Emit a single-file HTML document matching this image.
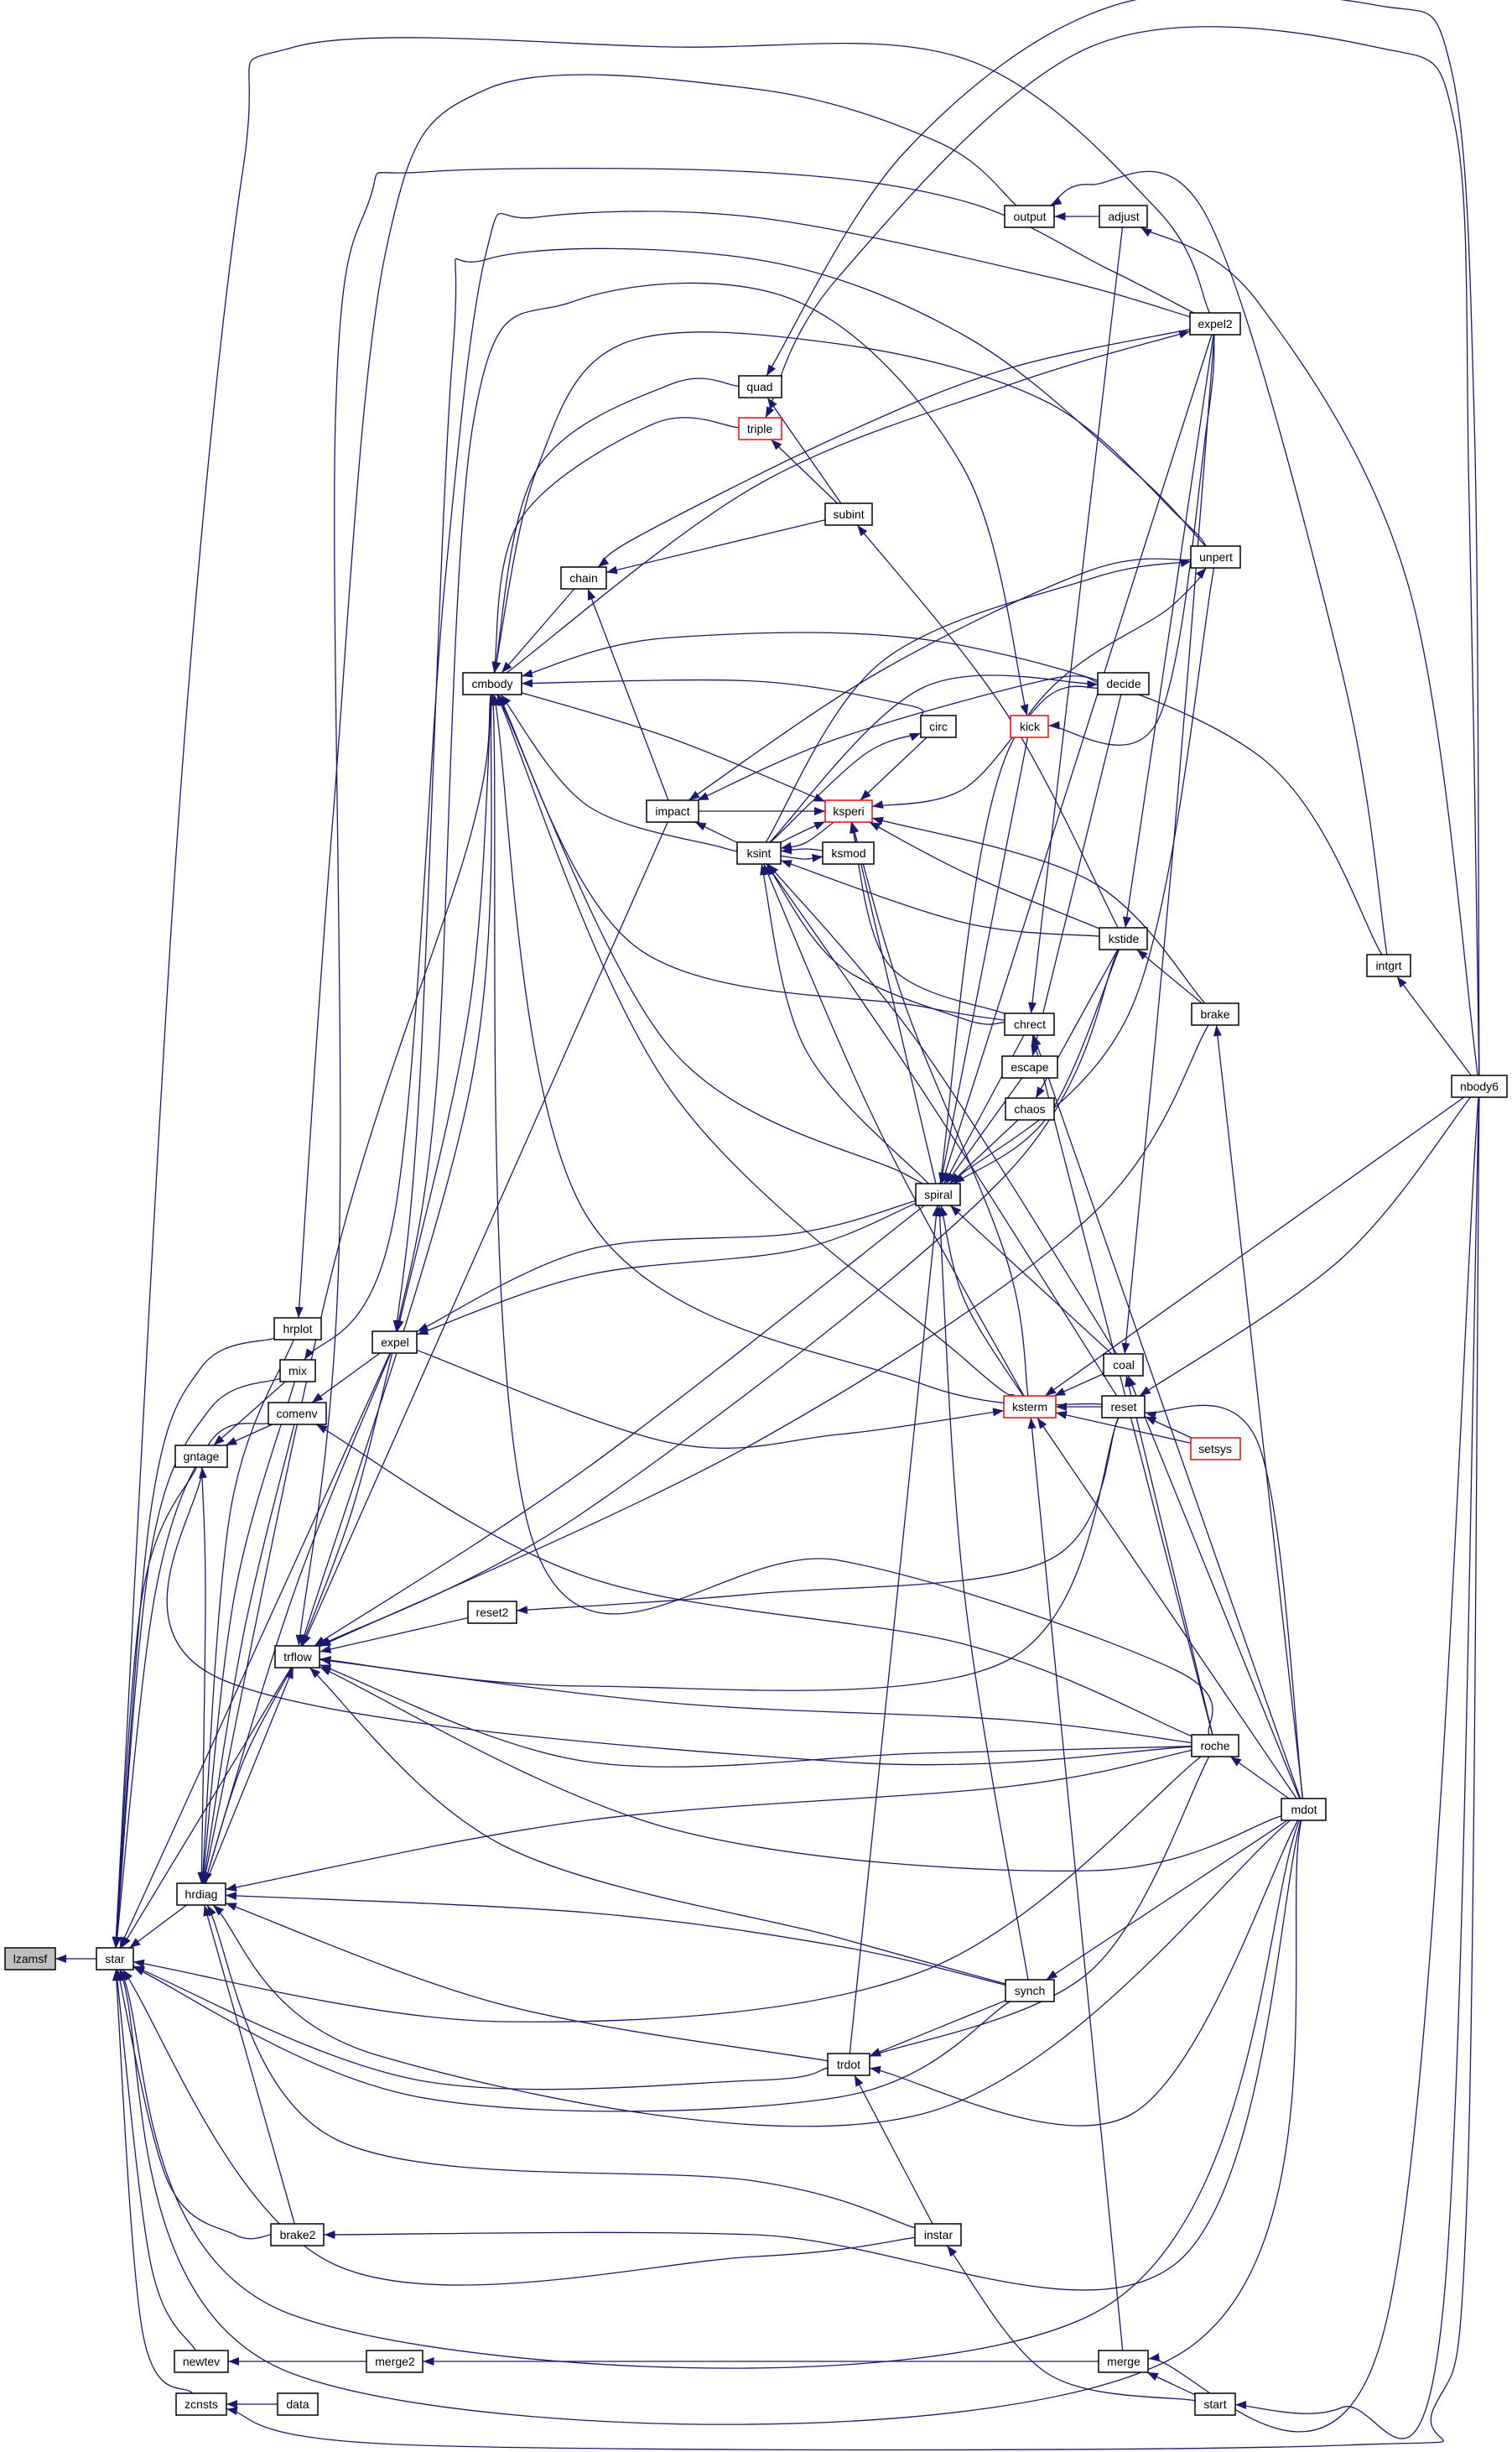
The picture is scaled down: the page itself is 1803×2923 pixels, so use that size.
<!DOCTYPE html>
<html><head><meta charset="utf-8"><style>
html,body{margin:0;padding:0;background:#fff}
svg{display:block}
text{font-family:"Liberation Sans",sans-serif;font-size:14px;text-anchor:middle;dominant-baseline:central;fill:#000}
</style></head><body>
<svg id="g" xmlns="http://www.w3.org/2000/svg" width="1803" height="2923" viewBox="0 0 1803 2923">
<defs><marker id="ah" markerUnits="userSpaceOnUse" markerWidth="13" markerHeight="10" refX="13" refY="5" orient="auto"><path d="M0,0 L13,5 L0,10 z" fill="#191970"/></marker></defs>
<g id="edges" fill="none" stroke="#191970" stroke-width="1.3"></g>
<g id="nodes">
<rect x="6" y="2322" width="60" height="26" fill="#bfbfbf" stroke="#000" stroke-width="1.5"/><text x="36" y="2335">lzamsf</text>
<rect x="115" y="2322" width="44" height="26" fill="#fff" stroke="#000" stroke-width="1.5"/><text x="137" y="2335">star</text>
<rect x="211" y="2245" width="58" height="26" fill="#fff" stroke="#000" stroke-width="1.5"/><text x="240" y="2258">hrdiag</text>
<rect x="328" y="1962" width="53" height="26" fill="#fff" stroke="#000" stroke-width="1.5"/><text x="355" y="1975">trflow</text>
<rect x="209" y="1723" width="62" height="26" fill="#fff" stroke="#000" stroke-width="1.5"/><text x="240" y="1736">gntage</text>
<rect x="320" y="1672" width="69" height="26" fill="#fff" stroke="#000" stroke-width="1.5"/><text x="354" y="1685">comenv</text>
<rect x="334" y="1621" width="42" height="26" fill="#fff" stroke="#000" stroke-width="1.5"/><text x="355" y="1634">mix</text>
<rect x="327" y="1571" width="56" height="26" fill="#fff" stroke="#000" stroke-width="1.5"/><text x="355" y="1584">hrplot</text>
<rect x="444" y="1587" width="53" height="26" fill="#fff" stroke="#000" stroke-width="1.5"/><text x="471" y="1600">expel</text>
<rect x="558" y="1909" width="58" height="26" fill="#fff" stroke="#000" stroke-width="1.5"/><text x="587" y="1922">reset2</text>
<rect x="323" y="2651" width="63" height="26" fill="#fff" stroke="#000" stroke-width="1.5"/><text x="355" y="2664">brake2</text>
<rect x="208" y="2802" width="64" height="26" fill="#fff" stroke="#000" stroke-width="1.5"/><text x="240" y="2815">newtev</text>
<rect x="437" y="2802" width="67" height="26" fill="#fff" stroke="#000" stroke-width="1.5"/><text x="471" y="2815">merge2</text>
<rect x="210" y="2853" width="60" height="26" fill="#fff" stroke="#000" stroke-width="1.5"/><text x="240" y="2866">zcnsts</text>
<rect x="331" y="2853" width="48" height="26" fill="#fff" stroke="#000" stroke-width="1.5"/><text x="355" y="2866">data</text>
<rect x="552" y="802" width="70" height="26" fill="#fff" stroke="#000" stroke-width="1.5"/><text x="587" y="815">cmbody</text>
<rect x="669" y="676" width="54" height="26" fill="#fff" stroke="#000" stroke-width="1.5"/><text x="696" y="689">chain</text>
<rect x="881" y="448" width="51" height="26" fill="#fff" stroke="#000" stroke-width="1.5"/><text x="906" y="461">quad</text>
<rect x="881" y="498" width="51" height="26" fill="#fff" stroke="#f00" stroke-width="1.5"/><text x="906" y="511">triple</text>
<rect x="984" y="600" width="56" height="26" fill="#fff" stroke="#000" stroke-width="1.5"/><text x="1012" y="613">subint</text>
<rect x="1198" y="245" width="59" height="26" fill="#fff" stroke="#000" stroke-width="1.5"/><text x="1228" y="258">output</text>
<rect x="1311" y="245" width="57" height="26" fill="#fff" stroke="#000" stroke-width="1.5"/><text x="1340" y="258">adjust</text>
<rect x="1419" y="373" width="60" height="26" fill="#fff" stroke="#000" stroke-width="1.5"/><text x="1449" y="386">expel2</text>
<rect x="1420" y="651" width="59" height="26" fill="#fff" stroke="#000" stroke-width="1.5"/><text x="1450" y="664">unpert</text>
<rect x="1309" y="802" width="61" height="26" fill="#fff" stroke="#000" stroke-width="1.5"/><text x="1340" y="815">decide</text>
<rect x="1098" y="853" width="42" height="26" fill="#fff" stroke="#000" stroke-width="1.5"/><text x="1119" y="866">circ</text>
<rect x="1205" y="853" width="45" height="26" fill="#fff" stroke="#f00" stroke-width="1.5"/><text x="1228" y="866">kick</text>
<rect x="771" y="954" width="62" height="26" fill="#fff" stroke="#000" stroke-width="1.5"/><text x="802" y="967">impact</text>
<rect x="984" y="954" width="56" height="26" fill="#fff" stroke="#f00" stroke-width="1.5"/><text x="1012" y="967">ksperi</text>
<rect x="879" y="1004" width="52" height="26" fill="#fff" stroke="#000" stroke-width="1.5"/><text x="905" y="1017">ksint</text>
<rect x="981" y="1004" width="61" height="26" fill="#fff" stroke="#000" stroke-width="1.5"/><text x="1012" y="1017">ksmod</text>
<rect x="1311" y="1106" width="57" height="26" fill="#fff" stroke="#000" stroke-width="1.5"/><text x="1340" y="1119">kstide</text>
<rect x="1630" y="1138" width="52" height="26" fill="#fff" stroke="#000" stroke-width="1.5"/><text x="1656" y="1151">intgrt</text>
<rect x="1421" y="1196" width="56" height="26" fill="#fff" stroke="#000" stroke-width="1.5"/><text x="1449" y="1209">brake</text>
<rect x="1198" y="1208" width="59" height="26" fill="#fff" stroke="#000" stroke-width="1.5"/><text x="1228" y="1221">chrect</text>
<rect x="1195" y="1259" width="66" height="26" fill="#fff" stroke="#000" stroke-width="1.5"/><text x="1228" y="1272">escape</text>
<rect x="1199" y="1309" width="58" height="26" fill="#fff" stroke="#000" stroke-width="1.5"/><text x="1228" y="1322">chaos</text>
<rect x="1731" y="1282" width="66" height="26" fill="#fff" stroke="#000" stroke-width="1.5"/><text x="1764" y="1295">nbody6</text>
<rect x="1092" y="1411" width="53" height="26" fill="#fff" stroke="#000" stroke-width="1.5"/><text x="1119" y="1424">spiral</text>
<rect x="1316" y="1614" width="47" height="26" fill="#fff" stroke="#000" stroke-width="1.5"/><text x="1340" y="1627">coal</text>
<rect x="1197" y="1664" width="62" height="26" fill="#fff" stroke="#f00" stroke-width="1.5"/><text x="1228" y="1677">ksterm</text>
<rect x="1314" y="1664" width="51" height="26" fill="#fff" stroke="#000" stroke-width="1.5"/><text x="1340" y="1677">reset</text>
<rect x="1420" y="1714" width="59" height="26" fill="#fff" stroke="#f00" stroke-width="1.5"/><text x="1449" y="1727">setsys</text>
<rect x="1421" y="2068" width="56" height="26" fill="#fff" stroke="#000" stroke-width="1.5"/><text x="1449" y="2081">roche</text>
<rect x="1528" y="2144" width="53" height="26" fill="#fff" stroke="#000" stroke-width="1.5"/><text x="1555" y="2157">mdot</text>
<rect x="1199" y="2360" width="58" height="26" fill="#fff" stroke="#000" stroke-width="1.5"/><text x="1228" y="2373">synch</text>
<rect x="987" y="2448" width="50" height="26" fill="#fff" stroke="#000" stroke-width="1.5"/><text x="1012" y="2461">trdot</text>
<rect x="1091" y="2651" width="55" height="26" fill="#fff" stroke="#000" stroke-width="1.5"/><text x="1119" y="2664">instar</text>
<rect x="1310" y="2802" width="59" height="26" fill="#fff" stroke="#000" stroke-width="1.5"/><text x="1340" y="2815">merge</text>
<rect x="1425" y="2853" width="48" height="26" fill="#fff" stroke="#000" stroke-width="1.5"/><text x="1449" y="2866">start</text>
</g>
</svg>
<script>
var N={lzamsf:[36,2335,60],star:[137,2335,44],hrdiag:[240,2258,58],trflow:[355,1975,53],gntage:[240,1736,62],comenv:[354,1685,69],mix:[355,1634,42],hrplot:[355,1584,56],expel:[471,1600,53],reset2:[587,1922,58],brake2:[355,2664,63],newtev:[240,2815,64],merge2:[471,2815,67],zcnsts:[240,2866,60],data:[355,2866,48],cmbody:[587,815,70],chain:[696,689,54],quad:[906,461,51],triple:[906,511,51],subint:[1012,613,56],output:[1228,258,59],adjust:[1340,258,57],expel2:[1449,386,60],unpert:[1450,664,59],decide:[1340,815,61],circ:[1119,866,42],kick:[1228,866,45],impact:[802,967,62],ksperi:[1012,967,56],ksint:[905,1017,52],ksmod:[1012,1017,61],kstide:[1340,1119,57],intgrt:[1656,1151,52],brake:[1449,1209,56],chrect:[1228,1221,59],escape:[1228,1272,66],chaos:[1228,1322,58],nbody6:[1764,1295,66],spiral:[1119,1424,53],coal:[1340,1627,47],ksterm:[1228,1677,62],reset:[1340,1677,51],setsys:[1449,1727,59],roche:[1449,2081,56],mdot:[1555,2157,53],synch:[1228,2373,58],trdot:[1012,2461,50],instar:[1119,2664,55],merge:[1340,2815,59],start:[1449,2866,48]};
var H=13;
var E=[
["lzamsf","star"],
["star","expel2",[[213,975],[290,200],[351,56],[800,56],[1150,70],[1380,250]]],
["quad","nbody6",[[1080,180],[1330,6],[1640,6],[1730,80],[1758,500]]],
["triple","nbody6",[[1000,330],[1300,56],[1640,56],[1735,150],[1752,600]]],
["hrplot","output",[[397,975],[460,300],[581,106],[900,106],[1120,170]]],
["trflow","expel2",[[404,1500],[400,500],[440,240],[506,205],[900,205],[1150,240],[1320,320]]],
["mix","expel2",[[470,1450],[530,700],[580,300],[640,259],[900,259],[1250,330]]],
["expel","unpert",[[500,1300],[540,420],[581,309],[900,309],[1150,400],[1350,560]]],
["kick","expel",[[1150,560],[950,359],[685,359],[565,500],[520,1300]]],
["cmbody","unpert",[[640,560],[742,410],[1000,410],[1250,480],[1410,620]]],
["output","intgrt",[[1300,220],[1440,260],[1600,800]]],
["adjust","nbody6",[[1500,360],[1680,700]]],
["output","adjust"],
["cmbody","quad",[[640,560],[800,458]]],
["cmbody","triple",[[620,620],[780,505]]],
["cmbody","chain"],["chain","subint"],["chain","impact"],["expel2","cmbody",[[1200,460],[900,580]]],
["chain","expel2",[[760,640],[1000,520],[1200,440]]],
["triple","subint"],["quad","subint"],
["cmbody","circ",[[900,812],[1080,840]]],
["ksperi","cmbody",[[800,880]]],
["cmbody","ksint",[[700,960],[860,1010]]],
["cmbody","chrect",[[760,1130],[1100,1200]]],
["cmbody","roche",[[640,1850],[1000,1860],[1400,1990]]],
["cmbody","reset",[[700,1450],[1100,1650]]],
["cmbody","ksterm",[[800,1300],[1150,1620]]],
["cmbody","intgrt",[[800,760],[1150,770],[1500,900]]],
["cmbody","spiral",[[800,1250],[1080,1400]]],
["impact","ksint"],["impact","unpert",[[1050,800],[1300,680]]],["impact","decide",[[1000,880],[1250,810]]],
["ksperi","impact"],["ksperi","ksint",[[960,990]]],["ksint","ksperi",[[960,1005]]],
["ksperi","circ"],["circ","ksint",[[1030,900]]],["ksperi","decide",[[1150,940],[1250,830]]],
["ksperi","brake",[[1300,1050]]],["ksperi","kstide",[[1150,1040]]],["ksperi","chrect",[[1060,1150]]],["ksperi","spiral"],["ksperi","ksterm",[[1080,1200],[1200,1500]]],
["ksint","ksmod",[[960,1012]]],["ksmod","ksint",[[960,1024]]],["ksint","kstide",[[1150,1100]]],["ksint","chrect",[[1000,1150],[1150,1215]]],
["ksint","spiral",[[960,1250]]],["ksint","ksterm",[[1050,1350]]],["ksint","reset",[[1100,1300]]],["ksint","coal",[[1100,1250]]],
["subint","kstide",[[1200,850]]],["unpert","ksint",[[1300,690],[1050,790]]],["unpert","spiral",[[1400,720],[1200,900]]],
["decide","ksint",[[1100,820]]],["kick","expel2",[[1380,860],[1440,500]]],["chrect","adjust",[[1300,600]]],
["escape","decide"],["chaos","kstide"],["kstide","expel2"],["coal","expel2",[[1400,1000]]],
["spiral","chrect"],["spiral","escape"],["spiral","chaos"],["spiral","kstide",[[1250,1330]]],["spiral","ksterm",[[1150,1550]]],["spiral","coal"],
["spiral","synch",[[1150,1900]]],["spiral","trdot",[[1070,1900]]],["spiral","unpert",[[1350,1200]]],["spiral","expel2"],["spiral","kick"],
["expel","spiral",[[700,1490],[950,1470]]],["expel","spiral",[[700,1520],[950,1490]]],["trflow","spiral",[[700,1750]]],
["kstide","brake"],["brake","mdot"],["intgrt","nbody6"],["ksterm","nbody6"],["reset","nbody6",[[1600,1500]]],
["coal","roche"],["coal","mdot"],["reset","setsys"],["ksterm","setsys"],["ksterm","reset"],["ksterm","coal"],
["ksterm","expel",[[1000,1710],[800,1720]]],["ksterm","mdot"],["ksterm","merge"],["reset","mdot",[[1500,1720]]],["chrect","mdot"],["chrect","roche"],
["roche","mdot"],["synch","mdot"],["trdot","synch"],["trdot","roche",[[1300,2350]]],["trdot","mdot",[[1350,2520]]],["trdot","instar"],
["instar","start",[[1250,2830]]],["merge","start"],["merge","nbody6",[[1650,2780]]],["start","nbody6",[[1600,2870],[1720,2760]]],
["zcnsts","nbody6",[[500,2915],[1600,2915],[1710,2870],[1750,2600]]],["merge2","merge"],["newtev","merge2"],["zcnsts","data"],
["brake2","mdot",[[900,2664],[1400,2700]]],["hrdiag","brake2"],
["trflow","reset2"],["reset2","reset",[[900,1900],[1250,1860]]],
["trflow","roche",[[800,2030],[1200,2050]]],["trflow","roche",[[700,2100],[1100,2090]]],["trflow","mdot",[[800,2180],[1300,2230]]],
["trflow","synch",[[600,2200],[1000,2310]]],["trflow","reset",[[700,2010],[1200,1980]]],["trflow","kstide",[[700,1800],[1200,1400]]],["trflow","impact"],
["trflow","brake",[[900,1720],[1300,1450]]],
["hrdiag","roche",[[700,2170],[1200,2130]]],["hrdiag","synch",[[700,2280],[1000,2320]]],["hrdiag","trdot",[[600,2390]]],["hrdiag","instar",[[400,2550],[900,2600]]],["hrdiag","mdot",[[450,2450],[1100,2520]]],
["star","roche",[[600,2410],[1100,2350]]],["star","synch",[[500,2500],[1000,2500]]],["star","trdot",[[500,2480],[900,2480]]],
["star","instar",[[400,2700],[900,2690]]],["star","mdot",[[350,2760],[1300,2760]]],["star","mdot",[[350,2830],[1400,2810]]],
["star","brake2",[[200,2600],[280,2664]]],["star","newtev",[[180,2700]]],["star","zcnsts",[[170,2780]]],
["star","hrdiag"],["star","trflow"],["star","gntage",[[170,1900]]],["star","hrplot",[[180,1800],[240,1630]]],["star","mix",[[180,1850],[250,1680]]],["star","comenv",[[185,1900],[250,1720]]],["star","expel"],
["trflow","hrdiag"],["hrdiag","trflow",[[290,2100]]],["hrdiag","comenv",[[290,1950]]],["hrdiag","mix",[[280,1900]]],["hrdiag","hrplot",[[275,1800]]],["hrdiag","expel",[[350,1900]]],["hrdiag","gntage",[[245,1900]]],
["gntage","comenv"],["gntage","mix"],["gntage","roche",[[260,2000],[1000,2100]]],["comenv","expel"],["comenv","roche",[[700,1880],[1150,1960]]],
["trflow","expel",[[420,1800]]],["trflow","cmbody",[[560,1300]]],["expel","cmbody",[[560,1200]]],["hrdiag","cmbody",[[400,1500],[560,1000]]]
];
function clip(n,px,py){var c=N[n],cx=c[0],cy=c[1],hw=c[2]/2,dx=px-cx,dy=py-cy;if(dx==0&&dy==0)return[cx,cy];var tx=dx!=0?hw/Math.abs(dx):1e9,ty=dy!=0?H/Math.abs(dy):1e9,t=Math.min(tx,ty);return[cx+dx*t,cy+dy*t];}
var g=document.getElementById('edges'),ns="http://www.w3.org/2000/svg";
E.forEach(function(e){var T=N[e[0]],S=N[e[1]],via=Array.isArray(e[2])?e[2]:[];
var nearT=via.length?via[0]:[S[0],S[1]],nearS=via.length?via[via.length-1]:[T[0],T[1]];
var p0=clip(e[1],nearS[0],nearS[1]),pn=clip(e[0],nearT[0],nearT[1]);
var pts=[p0].concat(via.slice().reverse()).concat([pn]);
var d="M"+pts[0][0].toFixed(1)+","+pts[0][1].toFixed(1);
for(var i=0;i<pts.length-1;i++){var a=pts[Math.max(i-1,0)],b=pts[i],c=pts[i+1],q=pts[Math.min(i+2,pts.length-1)];
var c1=[b[0]+(c[0]-a[0])/6,b[1]+(c[1]-a[1])/6],c2=[c[0]-(q[0]-b[0])/6,c[1]-(q[1]-b[1])/6];
d+=" C"+c1[0].toFixed(1)+","+c1[1].toFixed(1)+" "+c2[0].toFixed(1)+","+c2[1].toFixed(1)+" "+c[0].toFixed(1)+","+c[1].toFixed(1);}
var p=document.createElementNS(ns,"path");p.setAttribute("d",d);p.setAttribute("marker-end","url(#ah)");g.appendChild(p);});
</script>
</body></html>
